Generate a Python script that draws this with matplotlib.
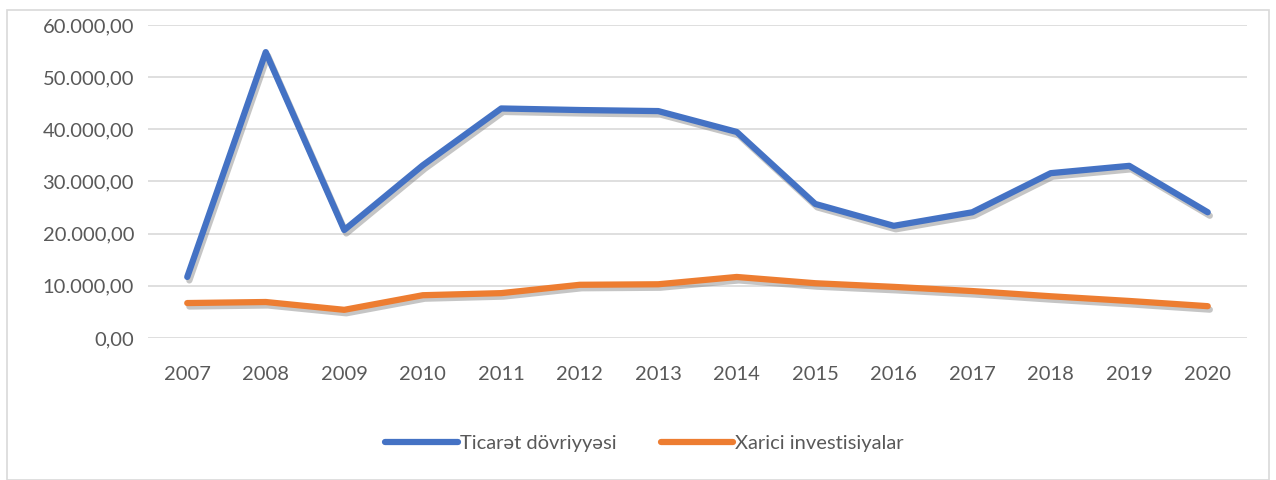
import matplotlib
matplotlib.use("Agg")
import matplotlib.pyplot as plt
import matplotlib.patheffects as pe
from matplotlib.patches import Rectangle
from matplotlib.ticker import FuncFormatter

years = ["2007", "2008", "2009", "2010", "2011", "2012", "2013",
         "2014", "2015", "2016", "2017", "2018", "2019", "2020"]
ticaret = [11700, 54800, 20700, 33100, 44000, 43700, 43500,
           39500, 25700, 21500, 24100, 31600, 33000, 24100]
investisiya = [6700, 6900, 5400, 8200, 8600, 10200, 10300,
               11700, 10500, 9800, 9000, 8000, 7100, 6100]

plt.rcParams["font.family"] = ["Lato", "DejaVu Sans"]


def az_fmt(v, pos):
    # 10.000,00 formatı
    s = f"{v:,.2f}"
    return s.replace(",", "X").replace(".", ",").replace("X", ".")


fig = plt.figure(figsize=(12.76, 4.8), dpi=100)
ax = fig.add_axes([148 / 1276, 1 - 338 / 480, (1247 - 148) / 1276, (338 - 25) / 480])

shadow = [pe.SimpleLineShadow(offset=(1.5, -2.5), shadow_color="#7f7f7f", alpha=0.45),
          pe.Normal()]
x = list(range(len(years)))
ax.plot(x, ticaret, color="#4472C4", lw=4.5, solid_capstyle="round",
        solid_joinstyle="round", label="Ticarət dövriyyəsi", path_effects=shadow)
ax.plot(x, investisiya, color="#ED7D31", lw=4.5, solid_capstyle="round",
        solid_joinstyle="round", label="Xarici investisiyalar", path_effects=shadow)

ax.set_xlim(-0.5, len(years) - 0.5)
ax.set_ylim(0, 60000)
ax.set_yticks(range(0, 60001, 10000))
ax.yaxis.set_major_formatter(FuncFormatter(az_fmt))
ax.set_xticks(x)
ax.set_xticklabels(years)
ax.grid(axis="y", color="#D9D9D9", lw=1.2)
ax.set_axisbelow(True)
for s in ax.spines.values():
    s.set_visible(False)
ax.tick_params(length=0, labelsize=14.5, labelcolor="#595959")
ax.tick_params(axis="y", pad=10)
ax.tick_params(axis="x", pad=20)

leg = fig.legend(loc="center", bbox_to_anchor=(0.505, 1 - 443 / 480), ncol=2,
                 frameon=False, fontsize=14.5, handlelength=3.6, handletextpad=0.1,
                 columnspacing=2.2)
for t in leg.get_texts():
    t.set_color("#595959")
for h in leg.get_lines():
    h.set_path_effects([])

fig.patches.append(Rectangle((7 / 1276, 0), 1 - 14 / 1276, 1 - 10 / 480,
                             transform=fig.transFigure, fill=False,
                             edgecolor="#D9D9D9", lw=1.2))

fig.savefig("out.png", dpi=100)
